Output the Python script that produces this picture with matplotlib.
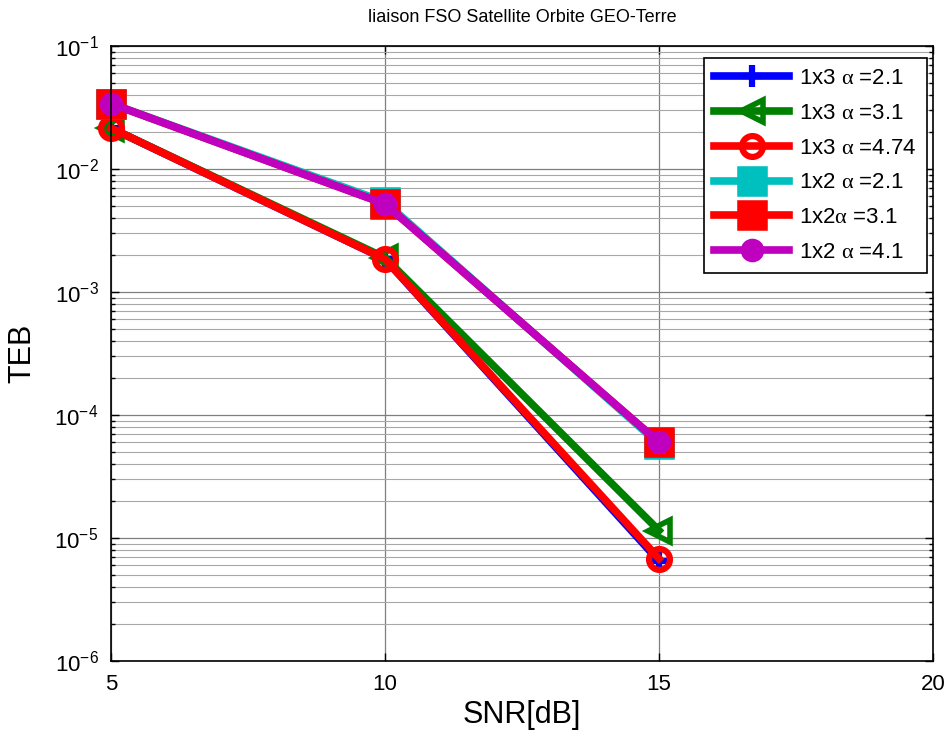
import matplotlib
matplotlib.use("Agg")
import matplotlib.pyplot as plt
import numpy as np
from matplotlib.ticker import LogLocator, NullFormatter, FixedLocator

plt.rcParams['font.family'] = ['Liberation Sans', 'DejaVu Sans']
plt.rcParams['mathtext.fontset'] = 'custom'
plt.rcParams['mathtext.rm'] = 'Liberation Sans'
plt.rcParams['mathtext.it'] = 'Liberation Serif'
plt.rcParams['mathtext.sf'] = 'Liberation Sans'

snr = [5, 10, 15]
teb_1x3_a21 = [0.0215, 0.00185, 6.5e-6]
teb_1x3_a31 = [0.0215, 0.00190, 1.15e-5]
teb_1x3_a474 = [0.0215, 0.00185, 6.8e-6]
teb_1x2_a21 = [0.034, 0.0054, 5.8e-5]
teb_1x2_a31 = [0.034, 0.0052, 6.0e-5]
teb_1x2_a41 = [0.034, 0.0052, 6.0e-5]

labels = ["1x3 $\\alpha$ =2.1", "1x3 $\\alpha$ =3.1", "1x3 $\\alpha$ =4.74",
          "1x2 $\\alpha$ =2.1", "1x2$\\alpha$ =3.1", "1x2 $\\alpha$ =4.1"]
title = "liaison FSO Satellite Orbite GEO-Terre"
xlabel = "SNR[dB]"
ylabel = "TEB"

fig = plt.figure(figsize=(9.52, 7.36), dpi=100)
ax = fig.add_axes([0.1166, 0.1019, 0.8634, 0.8356])

lw = 5.5
kw = dict(lw=lw, clip_on=False)
ax.semilogy(snr, teb_1x3_a21, color='#0000ff', marker='+', ms=16, mew=4.5, label=labels[0], **kw)
ax.semilogy(snr, teb_1x3_a31, color='#008000', marker='<', ms=16, mew=4, mfc='none', label=labels[1], **kw)
ax.semilogy(snr, teb_1x3_a474, color='#ff0000', marker='o', ms=15, mew=4.5, mfc='none', label=labels[2], **kw)
ax.semilogy(snr, teb_1x2_a21, color='#00bfbf', marker='s', ms=18, mew=4, mfc='#00bfbf', label=labels[3], **kw)
ax.semilogy(snr, teb_1x2_a31, color='#ff0000', marker='s', ms=18, mew=4, mfc='#ff0000', label=labels[4], **kw)
ax.semilogy(snr, teb_1x2_a41, color='#bf00bf', marker='o', ms=14, mew=3, mfc='#bf00bf', label=labels[5], **kw)

ax.set_xlim(5, 20)
ax.set_ylim(1e-6, 1e-1)
ax.xaxis.set_major_locator(FixedLocator([5, 10, 15, 20]))
ax.yaxis.set_major_locator(LogLocator(base=10, numticks=10))
ax.yaxis.set_minor_locator(LogLocator(base=10, subs=np.arange(2, 10), numticks=20))
ax.yaxis.set_minor_formatter(NullFormatter())

ax.grid(True, which='major', color='#7f7f7f', lw=0.9)
ax.grid(True, which='minor', axis='y', color='#a8a8a8', lw=0.8)
ax.set_axisbelow(True)

ax.tick_params(which='both', direction='in', top=True, right=True, labelsize=16, pad=9)
ax.tick_params(which='major', length=6, width=1)
ax.tick_params(which='minor', length=3, width=1)
for s in ax.spines.values():
    s.set_linewidth(1.2)

ax.set_title(title, fontsize=13, pad=17)
ax.set_xlabel(xlabel, fontsize=22, labelpad=4)
ax.set_ylabel(ylabel, fontsize=22, labelpad=12)

leg = ax.legend(loc='upper right', fontsize=16, handlelength=3.4, borderpad=0.45,
                labelspacing=0.62, handletextpad=0.45, fancybox=False, edgecolor='black',
                framealpha=1, bbox_to_anchor=(0.9927, 0.9805), borderaxespad=0)
leg.get_frame().set_linewidth(1.2)

fig.savefig("out.png", dpi=100)
